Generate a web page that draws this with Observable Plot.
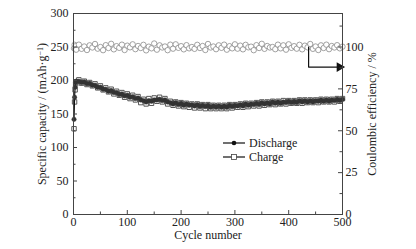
<!DOCTYPE html>
<html>
<head>
<meta charset="utf-8">
<script src="https://cdn.jsdelivr.net/npm/d3@7"></script>
<script src="https://cdn.jsdelivr.net/npm/@observablehq/plot@0.6"></script>
<style>
  html, body { margin: 0; padding: 0; background: #fff; }
  #chart { position: relative; width: 416px; height: 249px; }
</style>
</head>
<body>
<div id="chart"></div>
<script>
// cycles sampled: 1..5 then every 5 cycles
const cycles = [1, 2, 3, 4, 5].concat(d3.range(10, 501, 5));

const discharge = [142, 175, 190, 197, 199,
  199,197,198,195,196,193,193,190,190,187,
  187,184,185,182,182,179,180,177,178,175,
  176,173,174,171,170,168,170,169,171,171,
  172,170,171,168,167,165,167,164,166,163,
  165,163,164,162,164,161,163,161,163,160,
  162,160,162,160,162,160,163,161,163,162,
  164,162,165,163,165,164,166,164,167,165,
  167,165,168,166,168,166,168,167,169,167,
  169,167,170,168,170,168,170,168,170,169,
  171,169,171,169,171,170,172,170,172];

const charge = [128, 168, 186, 195, 198,
  201,196,199,194,197,192,195,189,192,186,
  189,183,187,180,184,178,182,175,180,173,
  178,171,176,167,172,165,173,166,174,169,
  175,168,173,165,169,163,168,162,167,161,
  166,160,165,159,165,159,164,158,164,158,
  163,158,163,158,163,158,164,159,164,160,
  165,160,166,161,166,162,167,162,168,163,
  168,164,169,164,169,165,170,165,170,166,
  170,166,171,166,171,167,171,167,171,167,
  172,168,172,168,172,168,173,169,173];

const efficiency = [99.2, 101.3, 98.7, 100.5, 98.4,
  101.4,98.9,100.3,98.2,101.0,99.7,101.8,99.0,100.0,98.1,
  101.1,99.4,101.9,98.6,100.5,99.5,101.4,98.2,100.8,99.8,
  101.6,98.7,100.6,99.4,101.3,98.0,100.2,99.2,102.1,98.4,
  101.0,99.7,100.3,98.1,101.4,99.0,101.6,99.5,100.5,98.6,
  101.1,99.2,100.0,98.9,101.3,99.4,100.6,98.2,101.8,99.7,
  100.3,98.7,101.0,99.5,101.4,98.4,100.5,99.2,101.6,99.0,
  100.8,98.6,101.3,99.8,100.2,98.1,101.1,99.4,101.9,98.9,
  100.6,99.7,100.0,98.7,101.4,99.2,101.0,98.4,101.6,99.5,
  100.5,99.0,101.3,98.6,100.8,99.8,101.8,98.9,100.3,98.2,
  101.0,99.4,101.4,98.7,100.6,99.7,101.1,99.2,100.2];

// axis tick values
const xTicks = [0, 100, 200, 300, 400, 500];
const xMinor = [50, 150, 250, 350, 450];
const capTicks = [0, 50, 100, 150, 200, 250, 300];
const capMinor = [25, 75, 125, 175, 225, 275];
const ceTicks = [0, 25, 50, 75, 100];
const ceMinor = [12.5, 37.5, 62.5, 87.5, 112.5];
const ceMax = 120;       // right axis top
const capMax = 300;      // left axis top
const k = capMax / ceMax; // efficiency -> capacity units

// annotation arrow (cycle, efficiency %)
const arrowCycle = [437, 437, 500];
const arrowCE = [100, 88, 88];

const yLeftParts = ["Specific capacity / (mAh·g", "−1", ")"];
const labels = {
  x: "Cycle number",
  yLeft: yLeftParts.join(""),
  yRight: "Coulombic efficiency / %",
  discharge: "Discharge",
  charge: "Charge"
};

const rows = cycles.map((c, i) => ({c, d: discharge[i], ch: charge[i], ce: efficiency[i] * k}));
const arrow = arrowCycle.map((c, i) => ({c, y: arrowCE[i] * k}));

const W = 416, H = 249, mL = 73, mR = 74, mT = 13, mB = 35;
const pw = W - mL - mR, ph = H - mT - mB;
const font = "'Liberation Serif', 'Times New Roman', serif";

const plot = Plot.plot({
  width: W, height: H,
  marginLeft: mL, marginRight: mR, marginTop: mT, marginBottom: mB,
  style: {fontFamily: font, fontSize: "12px", color: "#222", background: "transparent"},
  x: {domain: [0, 500]},
  y: {domain: [0, capMax]},
  marks: [
    // efficiency (right axis)
    Plot.dot(rows, {x: "c", y: "ce", r: 2.7, stroke: "#8a8a8a", strokeWidth: 0.8, fill: "white"}),
    // charge
    Plot.dot(rows, {x: "c", y: "ch", symbol: "square", r: 2.5, stroke: "#444", strokeWidth: 0.9, fill: "white"}),
    // discharge
    Plot.line(rows, {x: "c", y: "d", stroke: "#111", strokeWidth: 1.2}),
    Plot.dot(rows, {x: "c", y: "d", r: 2.2, fill: "#333", stroke: "#333", strokeWidth: 0.5}),
    // arrow
    Plot.line(arrow, {x: "c", y: "y", stroke: "#111", strokeWidth: 1.2}),
    Plot.dot(arrow.slice(-1), {x: "c", y: "y", symbol: "triangle", rotate: 90, r: 3.6, fill: "#111", dx: -3}),
    // frame
    Plot.frame({stroke: "#444", strokeWidth: 1}),
    // inward ticks
    Plot.tickY(capTicks, {y: d => d, insetRight: pw - 4, stroke: "#444"}),
    Plot.tickY(capMinor, {y: d => d, insetRight: pw - 2.5, stroke: "#444"}),
    Plot.tickY(ceTicks, {y: d => d * k, insetLeft: pw - 4, stroke: "#444"}),
    Plot.tickY(ceMinor, {y: d => d * k, insetLeft: pw - 2.5, stroke: "#444"}),
    Plot.tickX(xTicks, {x: d => d, insetTop: ph - 4, stroke: "#444"}),
    Plot.tickX(xMinor, {x: d => d, insetTop: ph - 2.5, stroke: "#444"}),
    // axes
    Plot.axisX(xTicks, {tickSize: 0, tickPadding: 3, label: null, fontSize: 12}),
    Plot.axisY(capTicks, {anchor: "left", tickSize: 0, tickPadding: 5, label: null, fontSize: 12}),
    Plot.axisY(ceTicks.map(d => d * k), {anchor: "right", tickSize: 0, tickPadding: 3, label: null, fontSize: 12, tickFormat: d => String(Math.round(d / k))}),
    // axis titles
    Plot.text([labels.x], {text: d => d, frameAnchor: "bottom", textAnchor: "middle", dy: 24, fontSize: 12, fill: "#222"}),
    Plot.text([labels.yLeft], {text: d => d, frameAnchor: "left", textAnchor: "middle", rotate: -90, dx: -31, fontSize: 12, fill: "#222"}),
    Plot.text([labels.yRight], {text: d => d, frameAnchor: "right", textAnchor: "middle", rotate: -90, dx: 30, fontSize: 12, fill: "#222"})
  ]
});

document.getElementById("chart").appendChild(plot);

const svg = d3.select(plot);

// rebuild left title with a true superscript
svg.selectAll("text").filter(function () { return this.textContent === labels.yLeft; })
  .each(function () {
    const t = d3.select(this);
    t.selectAll("*").remove();
    t.text(null);
    t.append("tspan").text(yLeftParts[0]);
    t.append("tspan").attr("font-size", 8).attr("dy", "-0.45em").text(yLeftParts[1]);
    t.append("tspan").attr("dy", "0.3em").text(yLeftParts[2]);
  });

// legend layer
const lg = svg.append("g").attr("font-family", font).attr("font-size", 12).attr("fill", "#222")
  .attr("text-anchor", "start");
const items = [
  {label: labels.discharge, y: 143, kind: "circle"},
  {label: labels.charge, y: 157, kind: "square"}
];
items.forEach(it => {
  lg.append("line").attr("x1", 223).attr("x2", 245).attr("y1", it.y).attr("y2", it.y)
    .attr("stroke", "#111").attr("stroke-width", 1.2);
  if (it.kind === "circle") {
    lg.append("circle").attr("cx", 234).attr("cy", it.y).attr("r", 2.3).attr("fill", "#111");
  } else {
    lg.append("rect").attr("x", 231.5).attr("y", it.y - 2.5).attr("width", 5).attr("height", 5)
      .attr("fill", "white").attr("stroke", "#444").attr("stroke-width", 0.8);
  }
  lg.append("text").attr("x", 249).attr("y", it.y).attr("dy", "0.35em").attr("text-anchor", "start").text(it.label);
});
</script>
</body>
</html>
